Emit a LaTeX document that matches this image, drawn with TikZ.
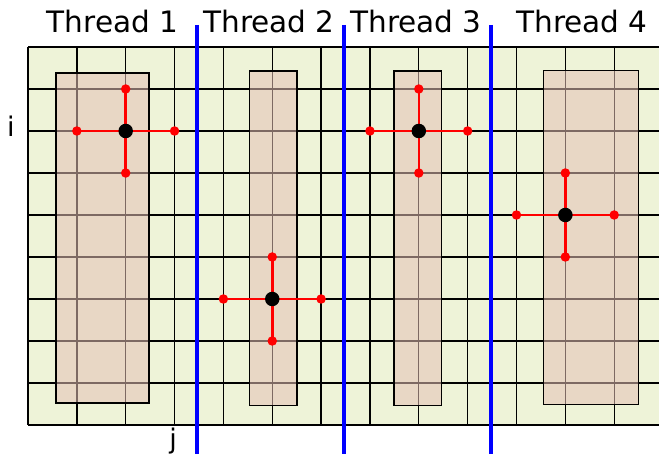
\documentclass[tikz,border=0pt]{standalone}
\usepackage{fontspec}
\setmainfont{DejaVu Sans}
\definecolor{bggreen}{RGB}{238,243,216}
\definecolor{tanfill}{RGB}{228,193,182}
\definecolor{bluesep}{RGB}{0,0,255}
\definecolor{reddot}{RGB}{255,0,0}
\pgfdeclarelayer{gridlayer}
\pgfdeclarelayer{armlayer}
\pgfsetlayers{gridlayer,armlayer,main}
\tikzset{
  gridline/.style={black, line width=1.3pt},
  blockbox/.style={fill=tanfill, fill opacity=0.55, draw=black, line width=1.4pt},
  sepline/.style={bluesep, line width=4pt},
  arm/.style={reddot, line width=2.6pt},
  nbdot/.style={circle, fill=reddot, inner sep=0pt, minimum size=9.5pt},
  ctrdot/.style={circle, fill=black, inner sep=0pt, minimum size=14.5pt},
  title/.style={font=\fontsize{29.5}{35}\selectfont, anchor=base, inner sep=0pt},
  axislabel/.style={font=\fontsize{27}{32}\selectfont, anchor=base, inner sep=0pt},
}
\begin{document}
\begin{tikzpicture}[x=1pt,y=-1pt]
\useasboundingbox (0,0) rectangle (659,454);
\clip (0,0) rectangle (659,454);
\begin{pgfonlayer}{gridlayer}
% background grid
\fill[bggreen] (28,47) rectangle (670,425);
\foreach \k in {0,...,13} {
  \draw[gridline] ({28+48.85*\k},47) -- ({28+48.85*\k},425);
}
\foreach \r in {0,...,9} {
  \draw[gridline] (28,{47+42*\r}) -- (670,{47+42*\r});
}
% thread blocks
\draw[blockbox] (56,73) rectangle (149,403);
\draw[blockbox] (249.5,71) rectangle (297,405.5);
\draw[blockbox] (394,71) rectangle (441.5,405.5);
\draw[blockbox] (543.5,70.5) rectangle (638.5,404.5);
% separators
\draw[sepline] (196.5,25) -- (196.5,460);
\draw[sepline] (343.5,25) -- (343.5,460);
\draw[sepline] (490.5,25) -- (490.5,460);
\end{pgfonlayer}
% stencils
\foreach \n/\cx/\cy in {1/125.7/131, 2/272.25/299, 3/418.8/131, 4/565.35/215} {
  \node[nbdot] (t\n l) at ({\cx-48.85},\cy) {};
  \node[nbdot] (t\n r) at ({\cx+48.85},\cy) {};
  \node[nbdot] (t\n u) at (\cx,{\cy-42}) {};
  \node[nbdot] (t\n d) at (\cx,{\cy+42}) {};
  \node[ctrdot] (t\n c) at (\cx,\cy) {};
}
\begin{pgfonlayer}{armlayer}
\foreach \n in {1,2,3,4} {
  \draw[arm] (t\n c.center) -- (t\n l.center);
  \draw[arm] (t\n c.center) -- (t\n r.center);
  \draw[arm] (t\n c.center) -- (t\n u.center);
  \draw[arm] (t\n c.center) -- (t\n d.center);
}
\end{pgfonlayer}
% titles
\node[title] (h1) at (112.5,33) {Thread 1};
\node[title] (h2) at (269,33) {Thread 2};
\node[title] (h3) at (416,33) {Thread 3};
\node[title] (h4) at (582,33) {Thread 4};
% axis labels
\node[axislabel] (li) at (11,137) {i};
\node[axislabel] (lj) at (173,448) {j};
\end{tikzpicture}
\end{document}
